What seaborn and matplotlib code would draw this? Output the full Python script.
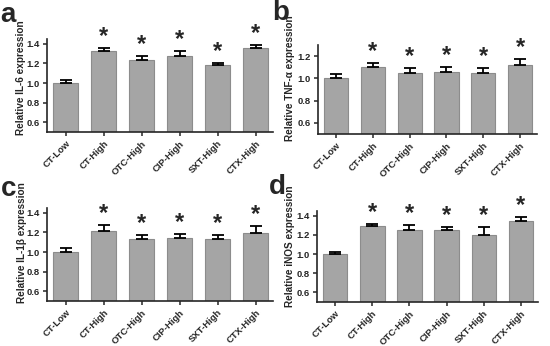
import numpy as np
import pandas as pd
import matplotlib
matplotlib.use('Agg')
import matplotlib.pyplot as plt
import seaborn as sns

groups = ['CT-Low', 'CT-High', 'OTC-High', 'CIP-High', 'SXT-High', 'CTX-High']

il6 = [1.00, 1.33, 1.24, 1.28, 1.18, 1.36]
il6_err = [0.03, 0.03, 0.035, 0.05, 0.025, 0.03]

tnf = [1.00, 1.10, 1.05, 1.06, 1.05, 1.12]
tnf_err = [0.04, 0.04, 0.04, 0.04, 0.04, 0.05]

il1b = [1.00, 1.22, 1.13, 1.14, 1.13, 1.19]
il1b_err = [0.04, 0.06, 0.04, 0.04, 0.045, 0.08]

inos = [1.00, 1.29, 1.25, 1.25, 1.20, 1.35]
inos_err = [0.02, 0.02, 0.05, 0.03, 0.08, 0.04]

significant = [False, True, True, True, True, True]

sns.set_style('ticks')
plt.rcParams['font.family'] = ['Liberation Sans', 'DejaVu Sans']

W, H = 550, 346
fig = plt.figure(figsize=(5.5, 3.46), dpi=100)

# letter, values, errors, ylabel, axes box (px: left, top, right, bottom), ylim, yticks,
# ylabel centre (px), letter position (px)
panels = [
    ('a', il6, il6_err, 'Relative IL-6 expression', (47, 39, 273, 132), (0.5, 1.45),
     [0.6, 0.8, 1.0, 1.2, 1.4], (21, 78), (0, 2)),
    ('b', tnf, tnf_err, 'Relative TNF-α expression', (318, 45, 537, 134), (0.5, 1.3),
     [0.6, 0.8, 1.0, 1.2], (290, 78), (272, 0)),
    ('c', il1b, il1b_err, 'Relative IL-1β expression', (47, 208, 273, 301), (0.5, 1.45),
     [0.6, 0.8, 1.0, 1.2, 1.4], (22, 243), (1, 176)),
    ('d', inos, inos_err, 'Relative iNOS expression', (317, 211, 538, 302), (0.5, 1.45),
     [0.6, 0.8, 1.0, 1.2, 1.4], (290, 246), (269, 174)),
]

for letter, vals, errs, ylabel, box, ylim, yticks, lab_c, let_p in panels:
    l, t, r, b = box
    ax = fig.add_axes([l / W, 1 - b / H, (r - l) / W, (b - t) / H])
    df = pd.DataFrame({'group': groups, 'value': vals})
    sns.barplot(data=df, x='group', y='value', ax=ax, color='#a5a5a5',
                edgecolor='#8c8c8c', linewidth=0.8, width=0.66, saturation=1)
    x = np.arange(len(groups))
    ax.errorbar(x, vals, yerr=[np.zeros(len(errs)), errs], fmt='none',
                ecolor='black', elinewidth=1.3, capsize=4.5, capthick=1.3)
    for xi, v, e, s in zip(x, vals, errs, significant):
        if s:
            ax.text(xi, v + e, '*', ha='center', va='bottom',
                    fontsize=17, fontweight='bold')
    ax.set_ylim(*ylim)
    ax.set_yticks(yticks)
    ax.set_yticklabels([f'{tk:.1f}' for tk in yticks], fontsize=6.8, fontweight='bold')
    ax.set_xticks(x)
    ax.set_xticklabels(groups, rotation=45, ha='right', rotation_mode='anchor',
                       fontsize=6.8, fontweight='bold')
    ax.set_xlim(-0.49, len(groups) - 0.54)
    ax.set_xlabel('')
    ax.set_ylabel(ylabel, fontsize=7.2, fontweight='bold')
    ax.yaxis.set_label_coords((lab_c[0] - l) / (r - l), (b - lab_c[1]) / (b - t))
    ax.yaxis.label.set_va('center')
    ax.tick_params(axis='both', length=3, width=1.1, pad=2)
    for sp in ['left', 'bottom']:
        ax.spines[sp].set_linewidth(1.2)
    sns.despine(ax=ax)
    fig.text(let_p[0] / W, 1 - let_p[1] / H, letter, fontsize=20,
             fontweight='bold', ha='left', va='top')

fig.savefig('out.png', dpi=100)
